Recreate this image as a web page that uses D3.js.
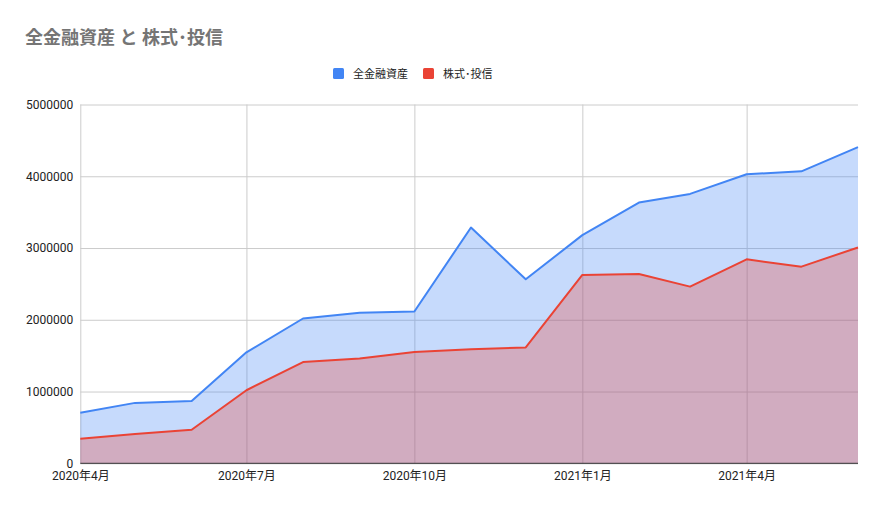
<!DOCTYPE html>
<html>
<head>
<meta charset="utf-8">
<script src="https://cdn.jsdelivr.net/npm/d3@7"></script>
<style>
  body { margin: 0; background: #fff; }
  svg { font-family: Roboto, 'Noto Sans CJK JP', sans-serif; }
</style>
</head>
<body>
<svg id="chart" width="883" height="509"></svg>
<script>
// Monthly data, 2020-04 .. 2021-06
var months = ['2020-04', '2020-05', '2020-06', '2020-07', '2020-08', '2020-09', '2020-10',
  '2020-11', '2020-12', '2021-01', '2021-02', '2021-03', '2021-04', '2021-05', '2021-06'];
var totalAssets = [703000, 842000, 869000, 1546000, 2018000, 2097000, 2115000,
  3286000, 2564000, 3180000, 3633000, 3754000, 4028000, 4069000, 4407000];
var stocksFunds = [342000, 407000, 467000, 1018000, 1411000, 1462000, 1550000,
  1588000, 1615000, 2625000, 2639000, 2462000, 2842000, 2740000, 3008000];
var yTicks = [0, 1000000, 2000000, 3000000, 4000000, 5000000];
var xTicks = ['2020-04', '2020-07', '2020-10', '2021-01', '2021-04'];

var seriesNames = ['全金融資産', '株式･投信'];
var seriesColors = ['#4285f4', '#ea4335'];

var parseMonth = d3.timeParse('%Y-%m');
var margin = { left: 80.3, right: 25, top: 104.5, bottom: 45.7 };
var width = 883, height = 509;

var svg = d3.select('#chart');

var x = d3.scaleTime()
  .domain([parseMonth(months[0]), parseMonth(months[months.length - 1])])
  .range([margin.left, width - margin.right]);

var y = d3.scaleLinear()
  .domain([0, 5000000])
  .range([height - margin.bottom, margin.top]);

// Title
svg.append('text')
  .attr('x', 25)
  .attr('y', 44)
  .attr('fill', '#757575')
  .attr('font-size', 18)
  .attr('font-weight', 'bold')
  .text('全金融資産 と 株式･投信');

// Legend
var legendX = [333, 423];
seriesNames.forEach(function(name, i) {
  svg.append('rect')
    .attr('x', legendX[i])
    .attr('y', 68)
    .attr('width', 11)
    .attr('height', 11)
    .attr('rx', 1.5)
    .attr('fill', seriesColors[i]);
  svg.append('text')
    .attr('x', legendX[i] + 20)
    .attr('y', 78)
    .attr('fill', '#222')
    .attr('font-size', 11)
    .text(name);
});

// Horizontal gridlines + y labels
var yAxis = d3.axisLeft(y)
  .tickValues(yTicks)
  .tickSize(-(width - margin.left - margin.right))
  .tickPadding(7)
  .tickFormat(d3.format('d'));

svg.append('g')
  .attr('transform', 'translate(' + margin.left + ',0)')
  .call(yAxis)
  .call(function(g) {
    g.select('.domain').remove();
    g.selectAll('.tick line').attr('stroke', '#cccccc');
    g.selectAll('.tick text').attr('fill', '#222').attr('font-size', 12)
      .attr('font-family', "Roboto, 'Noto Sans CJK JP', sans-serif");
  });

// Vertical gridlines + x labels
var xAxis = d3.axisBottom(x)
  .tickValues(xTicks.map(parseMonth))
  .tickSize(-(height - margin.top - margin.bottom))
  .tickPadding(8)
  .tickFormat(function(d) { return d.getFullYear() + '年' + (d.getMonth() + 1) + '月'; });

svg.append('g')
  .attr('transform', 'translate(0,' + (height - margin.bottom) + ')')
  .call(xAxis)
  .call(function(g) {
    g.select('.domain').remove();
    g.selectAll('.tick line').attr('stroke', '#cccccc');
    g.selectAll('.tick text').attr('fill', '#222').attr('font-size', 12)
      .attr('font-family', "Roboto, 'Noto Sans CJK JP', sans-serif");
  });

// Areas and lines
var seriesValues = [totalAssets, stocksFunds];
seriesValues.forEach(function(vals, i) {
  var pts = months.map(function(m, j) { return { date: parseMonth(m), value: vals[j] }; });

  var area = d3.area()
    .x(function(d) { return x(d.date); })
    .y0(y(0))
    .y1(function(d) { return y(d.value); });

  var line = d3.line()
    .x(function(d) { return x(d.date); })
    .y(function(d) { return y(d.value); });

  svg.append('path')
    .datum(pts)
    .attr('d', area)
    .attr('fill', seriesColors[i])
    .attr('fill-opacity', 0.3);

  svg.append('path')
    .datum(pts)
    .attr('d', line)
    .attr('fill', 'none')
    .attr('stroke', seriesColors[i])
    .attr('stroke-width', 2)
    .attr('stroke-linejoin', 'round');
});

// Baseline
svg.append('line')
  .attr('x1', margin.left)
  .attr('x2', width - margin.right)
  .attr('y1', y(0))
  .attr('y2', y(0))
  .attr('stroke', '#333')
  .attr('stroke-width', 1);
</script>
</body>
</html>
